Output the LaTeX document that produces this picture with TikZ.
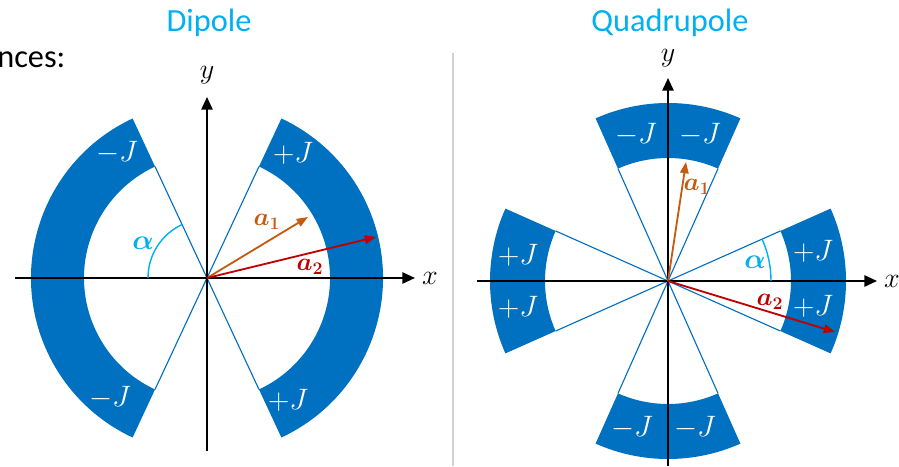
\documentclass[tikz,border=0pt]{standalone}
\usepackage{fontspec}
\setmainfont{Carlito}
\usepackage{fix-cm}
\usepackage{bm}
\usetikzlibrary{arrows.meta,calc}
\definecolor{coilblue}{RGB}{0,112,192}
\definecolor{titlecyan}{RGB}{0,176,240}
\definecolor{aorange}{RGB}{197,90,17}
\definecolor{ared}{RGB}{192,0,0}
\tikzset{
  coil/.style={fill=coilblue},
  edge/.style={draw=coilblue, line width=0.8pt},
  axis/.style={-{Triangle[length=9pt,width=8pt]}, line width=1.4pt},
  vec/.style={-{Triangle[length=8pt,width=6pt]}, line width=1.3pt},
  cur/.style={text=white, font=\fontsize{21}{25}\selectfont},
  title/.style={text=titlecyan, font=\fontsize{23}{28}\selectfont},
  axlabel/.style={font=\fontsize{20}{24}\selectfont},
  veclabel/.style={font=\fontsize{18}{22}\selectfont},
  angle/.style={draw=titlecyan, line width=1pt},
}

\begin{document}
\begin{tikzpicture}[x=0.025cm, y=0.025cm]
  \useasboundingbox (0,0) rectangle (899,466);

  % Titles
  \node[title] (tdip) at (209,443) {Dipole};
  \node[title] (tquad) at (670,443) {Quadrupole};
  \node[font=\fontsize{23}{28}\selectfont, anchor=west, inner sep=0pt] (prev) at (-3,406) {nces:};

  % Separator
  \coordinate (sepA) at (453,413);
  \coordinate (sepB) at (453,0);
  \draw[gray!35, line width=0.8pt] (sepA) -- (sepB);

  % Dipole
  \begin{scope}[shift={(207,188)}]
    \coordinate (O1) at (0,0);
    \foreach \a/\b in {-65/65, 115/245} {
      \fill[coil] (\a:176) arc[start angle=\a, end angle=\b, radius=176]
        -- (\b:123) arc[start angle=\b, end angle=\a, radius=123] -- cycle;
    }
    \foreach \t in {65,-65,115,245} \draw[edge] (O1) -- (\t:123);

    \node[cur] (jd1) at (86,125) {$+J$};
    \node[cur] (jd2) at (81,-122) {$+J$};
    \node[cur] (jd3) at (-90,125) {$-J$};
    \node[cur] (jd4) at (-97,-120) {$-J$};

    % Axes
    \coordinate (xl1) at (-192,0);
    \coordinate (xr1) at (208,0);
    \coordinate (yb1) at (0,-173);
    \coordinate (yt1) at (0,181);
    \draw[axis] (xl1) -- (xr1);
    \draw[axis] (yb1) -- (yt1);
    \node[axlabel] (xd) at (223,0) {$x$};
    \node[axlabel] (yd) at (0,203) {$y$};

    % Angle
    \draw[angle] (180:59) arc[start angle=180, end angle=115, radius=59];
    \node[axlabel, text=titlecyan] (alpd) at (-64,35) {$\bm{\alpha}$};

    % Vectors
    \coordinate (a1d) at (101,61);
    \coordinate (a2d) at (169,41);
    \draw[vec, aorange] (O1) -- (a1d);
    \draw[vec, ared] (O1) -- (a2d);
    \node[veclabel, text=aorange] (la1d) at (60,56) {$\bm{a_1}$};
    \node[veclabel, text=ared] (la2d) at (103,11) {$\bm{a_2}$};
  \end{scope}

  % Quadrupole
  \begin{scope}[shift={(668,185)}]
    \coordinate (O2) at (0,0);
    \foreach \c in {0,90,180,270} {
      \fill[coil] (\c-24:178) arc[start angle=\c-24, end angle=\c+24, radius=178]
        -- (\c+24:123) arc[start angle=\c+24, end angle=\c-24, radius=123] -- cycle;
    }
    \foreach \t in {24,-24,66,114,156,204,246,294} \draw[edge] (O2) -- (\t:123);

    \node[cur] (jq1) at (-32,146) {$-J$};
    \node[cur] (jq2) at (32,146) {$-J$};
    \node[cur] (jq3) at (-36,-147) {$-J$};
    \node[cur] (jq4) at (27,-147) {$-J$};
    \node[cur] (jq5) at (145,30) {$+J$};
    \node[cur] (jq6) at (145,-25) {$+J$};
    \node[cur] (jq7) at (-150,26) {$+J$};
    \node[cur] (jq8) at (-150,-26) {$+J$};

    % Axes
    \coordinate (xl2) at (-191,0);
    \coordinate (xr2) at (209,0);
    \coordinate (yb2) at (0,-185);
    \coordinate (yt2) at (0,203);
    \draw[axis] (xl2) -- (xr2);
    \draw[axis] (yb2) -- (yt2);
    \node[axlabel] (xq) at (224,0) {$x$};
    \node[axlabel] (yq) at (0,223) {$y$};

    % Angle
    \draw[angle] (0:103) arc[start angle=0, end angle=24, radius=103];
    \node[axlabel, text=titlecyan] (alpq) at (87,19) {$\bm{\alpha}$};

    % Vectors
    \coordinate (a1q) at (18,119);
    \coordinate (a2q) at (167,-51);
    \draw[vec, aorange] (O2) -- (a1q);
    \draw[vec, ared] (O2) -- (a2q);
    \node[veclabel, text=aorange] (la1q) at (29,94) {$\bm{a_1}$};
    \node[veclabel, text=ared] (la2q) at (102,-21) {$\bm{a_2}$};
  \end{scope}
\end{tikzpicture}
\end{document}
